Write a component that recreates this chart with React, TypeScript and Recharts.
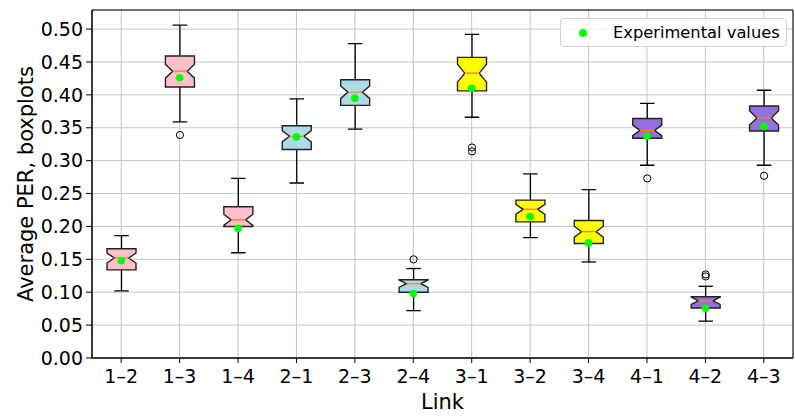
import { ComposedChart, Bar, Scatter, XAxis, YAxis, CartesianGrid, Legend, ReferenceArea } from 'recharts';

const links = ['1–2', '1–3', '1–4', '2–1', '2–3', '2–4', '3–1', '3–2', '3–4', '4–1', '4–2', '4–3'];
const whiskerLow = [0.102, 0.359, 0.160, 0.266, 0.348, 0.072, 0.366, 0.183, 0.146, 0.293, 0.056, 0.293];
const q1 = [0.134, 0.412, 0.200, 0.317, 0.384, 0.100, 0.406, 0.207, 0.174, 0.334, 0.076, 0.345];
const median = [0.152, 0.436, 0.210, 0.337, 0.404, 0.113, 0.433, 0.226, 0.192, 0.346, 0.087, 0.365];
const q3 = [0.166, 0.459, 0.230, 0.353, 0.423, 0.119, 0.457, 0.240, 0.209, 0.364, 0.093, 0.383];
const whiskerHigh = [0.186, 0.506, 0.273, 0.394, 0.478, 0.136, 0.492, 0.280, 0.256, 0.387, 0.109, 0.407];
const notchHalf = [0.0076, 0.0106, 0.0085, 0.0086, 0.0094, 0.0056, 0.0137, 0.0076, 0.0083, 0.008, 0.0056, 0.011];
const outliers = [[], [0.339], [], [], [], [0.150], [0.320, 0.314], [], [], [0.273], [0.127, 0.124], [0.277]];
const experimental = [0.148, 0.426, 0.197, 0.336, 0.395, 0.098, 0.410, 0.215, 0.175, 0.337, 0.0755, 0.352];
const boxColors = ['pink', 'pink', 'pink', 'lightblue', 'lightblue', 'lightblue', 'yellow', 'yellow', 'yellow', 'mediumpurple', 'mediumpurple', 'mediumpurple'];
const yTicks = [0, 0.05, 0.1, 0.15, 0.2, 0.25, 0.3, 0.35, 0.4, 0.45, 0.5];

const data = links.map((link, i) => ({
  link,
  whiskerLow: whiskerLow[i],
  q1: q1[i],
  median: median[i],
  q3: q3[i],
  whiskerHigh: whiskerHigh[i],
  notch: notchHalf[i],
  outliers: outliers[i],
  experimental: experimental[i],
  color: boxColors[i],
}));

const FONT = 'DejaVu Sans';

function BoxShape(props: any) {
  const { x, y, width, height, payload: d } = props;
  if (d == null) return null;
  const top = Math.min(y, y + height);
  const bottom = Math.max(y, y + height);
  // map value -> pixel using the whisker range the bar was drawn with
  const py = (v: number) => top + ((bottom - top) * (d.whiskerHigh - v)) / (d.whiskerHigh - d.whiskerLow);
  const cx = x + width / 2;
  const l = x;
  const r = x + width;
  const yq1 = py(d.q1);
  const yq3 = py(d.q3);
  const ym = py(d.median);
  const nLo = py(d.median - d.notch);
  const nHi = py(d.median + d.notch);
  const nw = width / 4;
  const path = `M${l},${yq1} L${r},${yq1} L${r},${nLo} L${cx + nw},${ym} L${r},${nHi} L${r},${yq3} L${l},${yq3} L${l},${nHi} L${cx - nw},${ym} L${l},${nLo} Z`;
  const cap = width / 4;
  return (
    <g>
      <line x1={cx} x2={cx} y1={yq3} y2={py(d.whiskerHigh)} stroke="#000" strokeWidth={1.3} />
      <line x1={cx} x2={cx} y1={yq1} y2={py(d.whiskerLow)} stroke="#000" strokeWidth={1.3} />
      <line x1={cx - cap} x2={cx + cap} y1={py(d.whiskerHigh)} y2={py(d.whiskerHigh)} stroke="#000" strokeWidth={1.3} />
      <line x1={cx - cap} x2={cx + cap} y1={py(d.whiskerLow)} y2={py(d.whiskerLow)} stroke="#000" strokeWidth={1.3} />
      <path d={path} fill={d.color} stroke="#222" strokeWidth={1.4} strokeLinejoin="miter" />
      <line x1={cx - nw} x2={cx + nw} y1={ym} y2={ym} stroke="#ff7f0e" strokeWidth={1.2} />
      {d.outliers.map((o: number, k: number) => (
        <circle key={k} cx={cx} cy={py(o)} r={3.6} fill="none" stroke="#000" strokeWidth={1} />
      ))}
    </g>
  );
}

function Dot(props: any) {
  const { cx, cy, fill } = props;
  return <circle cx={cx} cy={cy} r={3.8} fill={fill} />;
}

function LegendBox({ payload }: any) {
  const items = (payload || []).filter((p: any) => p.type !== 'none');
  return (
    <div style={{ border: '1px solid #d4d4d4', borderRadius: 4, background: 'rgba(255,255,255,0.8)', height: 29, boxSizing: 'border-box', display: 'flex', alignItems: 'center', fontSize: 16.3, fontFamily: FONT, color: '#000' }}>
      {items.map((it: any) => (
        <div key={it.value} style={{ display: 'flex', alignItems: 'center' }}>
          <svg width={52} height={12}>
            <circle cx={22} cy={6} r={4} fill={it.color} />
          </svg>
          <span>{it.value}</span>
        </div>
      ))}
    </div>
  );
}

export default function App() {
  return (
    <div style={{ position: 'absolute', left: 0, top: 0, fontFamily: FONT }}>
      <ComposedChart width={795} height={417} data={data} margin={{ top: 10, right: 2, bottom: 0, left: 0 }}>
        <CartesianGrid stroke="#c4c4c4" strokeWidth={1} />
        <XAxis
          dataKey="link"
          height={59}
          interval={0}
          tickSize={5}
          tickMargin={7}
          stroke="#000"
          tick={{ fill: '#000', fontSize: 19, fontFamily: FONT }}
          label={{ value: 'Link', position: 'insideBottom', offset: 8, fill: '#000', fontSize: 21, fontFamily: FONT }}
        />
        <YAxis
          type="number"
          width={92}
          domain={[0, 0.529]}
          ticks={yTicks}
          allowDataOverflow
          tickSize={6}
          tickMargin={3}
          stroke="#000"
          tickFormatter={(v: number) => v.toFixed(2)}
          tick={{ fill: '#000', fontSize: 19, fontFamily: FONT }}
          label={{
            content: ({ viewBox }: any) => {
              const cx = viewBox.x + 33;
              const cy = viewBox.y + viewBox.height / 2;
              return (
                <text x={cx} y={cy} transform={`rotate(-90, ${cx}, ${cy})`} textAnchor="middle" fill="#000" fontSize={21} fontFamily={FONT}>
                  Average PER, boxplots
                </text>
              );
            },
          }}
        />
        <Bar dataKey={(d: any) => [d.whiskerLow, d.whiskerHigh]} barSize={29} shape={<BoxShape />} legendType="none" isAnimationActive={false} />
        <Scatter dataKey="experimental" name="Experimental values" fill="#00ff00" shape={<Dot />} legendType="circle" isAnimationActive={false} />
        <ReferenceArea x1={links[0]} x2={links[links.length - 1]} y1={0} y2={0.529} fill="none" stroke="#000" strokeWidth={1} ifOverflow="visible" />
        <Legend
          layout="vertical"
          align="center"
          verticalAlign="middle"
          content={<LegendBox />}
          wrapperStyle={{ left: 560, top: 18, width: 227, height: 29 }}
        />
      </ComposedChart>
    </div>
  );
}
